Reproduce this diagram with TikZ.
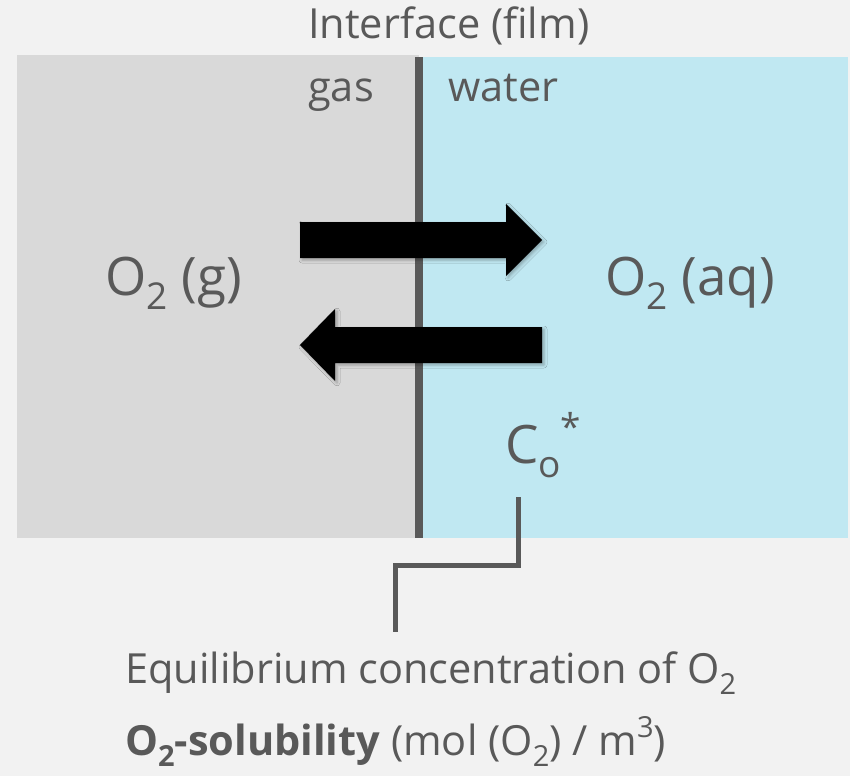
\documentclass[tikz,border=0pt]{standalone}
\usepackage{fontspec}
\setmainfont{Open Sans}
\usetikzlibrary{calc,shadows.blur}
\definecolor{bg}{HTML}{F2F2F2}
\definecolor{gasgray}{HTML}{D9D9D9}
\definecolor{waterblue}{HTML}{C0E8F2}
\definecolor{txt}{HTML}{595959}
\newcommand{\lowsub}[2]{\raisebox{-0.28em}{\fontsize{#2}{#2}\selectfont #1}}
\newcommand{\highsup}[2]{\raisebox{0.42em}{\fontsize{#2}{#2}\selectfont #1}}
\begin{document}
\begin{tikzpicture}[x=1pt,y=-1pt,
  lbl/.style={text=txt,inner sep=0pt,anchor=base west,font=\fontsize{41.5}{41.5}\selectfont},
  biglbl/.style={text=txt,inner sep=0pt,anchor=base west,font=\fontsize{53}{53}\selectfont},
  fatarrow/.style={fill=black,blur shadow={shadow xshift=2pt,shadow yshift=-2pt,shadow blur radius=3pt,shadow opacity=30}},
  leader/.style={draw=txt,line width=5pt}]
\useasboundingbox[fill=bg] (0,0) rectangle (850,776);
% regions
\fill[gasgray] (17,55) rectangle (419,538);
\fill[waterblue] (419,57) rectangle (848,538);
\draw[txt,line width=8pt] (419,57) -- (419,538);
% labels
\node[lbl] (iface) at (308,38) {Interface (film)};
\node[lbl] (gas) at (308,101) {gas};
\node[lbl] (water) at (448,101) {water};
\node[biglbl] (og) at (105,295) {O\lowsub{2}{37} (g)};
\node[biglbl] (oaq) at (605,295) {O\lowsub{2}{37} (aq)};
\node[biglbl] (co) at (505,463) {C\lowsub{o}{37}\highsup{*}{37}};
% arrows
\path[fatarrow] (300,222) -- (506,222) -- (506,204) -- (542,240) -- (506,276) -- (506,258) -- (300,258) -- cycle;
\path[fatarrow] (542,327) -- (335,327) -- (335,309) -- (300,345) -- (335,381) -- (335,363) -- (542,363) -- cycle;
% leader line
\coordinate (c1) at (518,497);
\coordinate (c2) at (395,632);
\draw[leader] (c1) -- (518,565) -| (c2);
% bottom texts
\node[lbl] (eq) at (125,683) {Equilibrium concentration of O\lowsub{2}{29}};
\node[lbl] (sol) at (125,755) {\textbf{O\lowsub{2}{29}-solubility} (mol (O\lowsub{2}{29}) / m\highsup{3}{29})};
\end{tikzpicture}
\end{document}
